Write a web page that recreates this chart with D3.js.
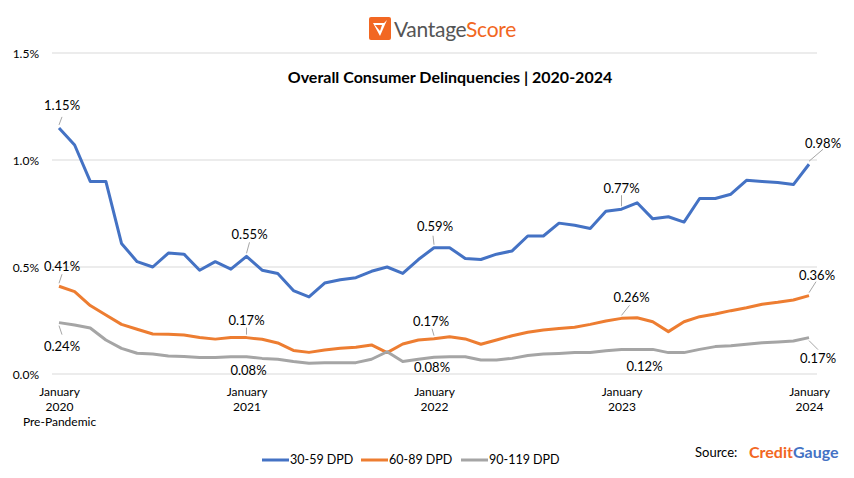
<!DOCTYPE html>
<html>
<head>
<meta charset="utf-8">
<script src="https://cdn.jsdelivr.net/npm/d3@7"></script>
<style>
 body { margin:0; background:#fff; }
 text { font-family: Lato, "Open Sans", sans-serif; fill:#000; }
</style>
</head>
<body>
<div id="container"></div>
<script>
// monthly, Jan 2020 .. Jan 2024 (49 points)
const dpd30 = [1.15,1.07,0.90,0.90,0.61,0.525,0.50,0.565,0.56,0.485,0.525,0.49,
 0.55,0.485,0.47,0.39,0.36,0.425,0.44,0.45,0.48,0.50,0.47,0.535,
 0.59,0.59,0.54,0.535,0.56,0.575,0.645,0.645,0.705,0.695,0.68,0.76,
 0.77,0.80,0.725,0.735,0.71,0.82,0.82,0.84,0.905,0.90,0.895,0.885,
 0.98];
const dpd60 = [0.41,0.385,0.32,0.276,0.232,0.209,0.187,0.186,0.182,0.171,0.163,0.171,
 0.17,0.162,0.145,0.11,0.101,0.112,0.12,0.125,0.136,0.10,0.14,0.159,
 0.165,0.174,0.164,0.139,0.159,0.179,0.195,0.206,0.213,0.218,0.232,0.248,
 0.26,0.263,0.244,0.198,0.244,0.268,0.28,0.296,0.31,0.326,0.335,0.346,
 0.366];
const dpd90 = [0.24,0.229,0.215,0.159,0.12,0.097,0.093,0.084,0.082,0.077,0.077,0.081,
 0.081,0.073,0.069,0.058,0.05,0.052,0.052,0.053,0.069,0.104,0.058,0.069,
 0.078,0.081,0.081,0.065,0.065,0.073,0.086,0.093,0.096,0.10,0.101,0.109,
 0.115,0.115,0.115,0.10,0.10,0.115,0.128,0.132,0.139,0.146,0.15,0.154,
 0.17];
const seriesNames = ["30-59 DPD","60-89 DPD","90-119 DPD"];
const yTicks = [0, 0.5, 1.0, 1.5];
const xTickIdx = [0, 12, 24, 36, 48];
const xTickLabels = [["January","2020","Pre-Pandemic"],["January","2021"],["January","2022"],["January","2023"],["January","2024"]];
// data labels: series, month index, text
const labelPts = [
 [0,0,"1.15%"],[1,0,"0.41%"],[2,0,"0.24%"],
 [0,12,"0.55%"],[1,12,"0.17%"],[2,12,"0.08%"],
 [0,24,"0.59%"],[1,24,"0.17%"],[2,24,"0.08%"],
 [0,36,"0.77%"],[1,36,"0.26%"],[2,36,"0.12%"],
 [0,48,"0.98%"],[1,48,"0.36%"],[2,48,"0.17%"]
];
// label placement: [dx, dy of text baseline, leader line offset]
const labelPos = [
 [3,-18,[3,-8]],[3,-15,[3,-9]],[3,28,[3,9]],
 [3,-17,[3,-11]],[0,-13,[0,-7]],[2,18,null],
 [1,-17,[-1,-9]],[-3,-13,[-2,-7]],[-2,15,null],
 [0,-16,[0,-11]],[10,-16,[8,-10]],[23,22,null],
 [14,-16,[14,-12]],[8,-16,[7,-11]],[9,25,[9,9]]
];
const colors = ["#4472C4","#ED7D31","#A5A5A5"];
const data = [dpd30, dpd60, dpd90];

const width = 854, height = 478;
const svg = d3.select("#container").append("svg")
  .attr("width", width).attr("height", height);

const x = d3.scaleLinear().domain([0, 48]).range([59, 809]);
const y = d3.scaleLinear().domain([0, 1.5]).range([374, 53]);

// gridlines
svg.append("g")
  .selectAll("line").data(yTicks).enter().append("line")
  .attr("x1", 52).attr("x2", 817)
  .attr("y1", d => y(d)).attr("y2", d => y(d))
  .attr("stroke", "#d9d9d9").attr("stroke-width", 1);

// y axis labels
const yAxis = svg.append("g").attr("transform", "translate(40,0)")
  .call(d3.axisLeft(y).tickValues(yTicks).tickSize(0).tickPadding(1).tickFormat(d => d.toFixed(1) + "%"));
yAxis.select(".domain").remove();
yAxis.selectAll("text").style("font-size", "12px").attr("fill", "#000").attr("dy", "0.35em").style("font-family", "Lato, sans-serif");

// x axis labels
const xAxis = svg.append("g").attr("transform", "translate(0,374)")
  .call(d3.axisBottom(x).tickValues(xTickIdx).tickSize(0).tickFormat(""));
xAxis.select(".domain").remove();
xAxis.selectAll(".tick").each(function(d, i) {
  const t = d3.select(this).append("text").attr("text-anchor", "middle")
    .style("font-size", "12px").style("font-family", "Lato, sans-serif").attr("fill", "#000");
  xTickLabels[i].forEach((s, j) => {
    t.append("tspan").attr("x", 0).attr("y", 22 + j * 15).text(s);
  });
});

// lines
const line = d3.line().x((d, i) => x(i)).y(d => y(d));
data.forEach((s, k) => {
  svg.append("path").datum(s)
    .attr("fill", "none").attr("stroke", colors[k]).attr("stroke-width", 3)
    .attr("stroke-linejoin", "round")
    .attr("d", line);
});

// data labels
labelPts.forEach((p, i) => {
  const [k, idx, txt] = p;
  const [dx, dy, lead] = labelPos[i];
  const px = x(idx), py = y(data[k][idx]);
  if (lead) {
    svg.append("line")
      .attr("x1", px + lead[0]).attr("y1", py + lead[1] + (dy < 0 ? -3 : 3))
      .attr("x2", px).attr("y2", py + (dy < 0 ? -3 : 3))
      .attr("stroke", "#a6a6a6").attr("stroke-width", 1);
  }
  svg.append("text").attr("x", px + dx).attr("y", py + dy)
    .attr("text-anchor", "middle").style("font-size", "13px").text(txt);
});

// title
svg.append("text").attr("x", 450).attr("y", 83).attr("text-anchor", "middle")
  .style("font-size", "16px").style("font-weight", "bold").text("Overall Consumer Delinquencies | 2020-2024");

// VantageScore logo
const logo = svg.append("g").attr("transform", "translate(369,17)");
logo.append("rect").attr("width", 22).attr("height", 23).attr("rx", 2).attr("fill", "#F26722");
logo.append("path").attr("d", "M4,6 L15,6 L18,3 L11,19 Z").attr("fill", "#fff");
logo.append("path").attr("d", "M6,8 L13,8 L11,14 Z").attr("fill", "#F26722");
const lt = svg.append("text").attr("x", 394).attr("y", 37).style("font-size", "21px").style("letter-spacing", "-0.3px");
lt.append("tspan").style("fill", "#555").text("Vantage");
lt.append("tspan").style("fill", "#F26722").text("Score");

// legend
const legend = svg.append("g");
const legX = [262, 361, 461];
seriesNames.forEach((n, k) => {
  legend.append("line").attr("x1", legX[k]).attr("x2", legX[k] + 27)
    .attr("y1", 460).attr("y2", 460).attr("stroke", colors[k]).attr("stroke-width", 3);
  legend.append("text").attr("x", legX[k] + 28).attr("y", 464)
    .style("font-size", "12.5px").text(n);
});

// source
svg.append("text").attr("x", 695).attr("y", 457).style("font-size", "13px").text("Source:");
const cg = svg.append("text").attr("x", 749).attr("y", 458).style("font-size", "16px").style("font-weight", "bold");
cg.append("tspan").style("fill", "#F26722").text("Credit");
cg.append("tspan").style("fill", "#4472C4").text("Gauge");
</script>
</body>
</html>
